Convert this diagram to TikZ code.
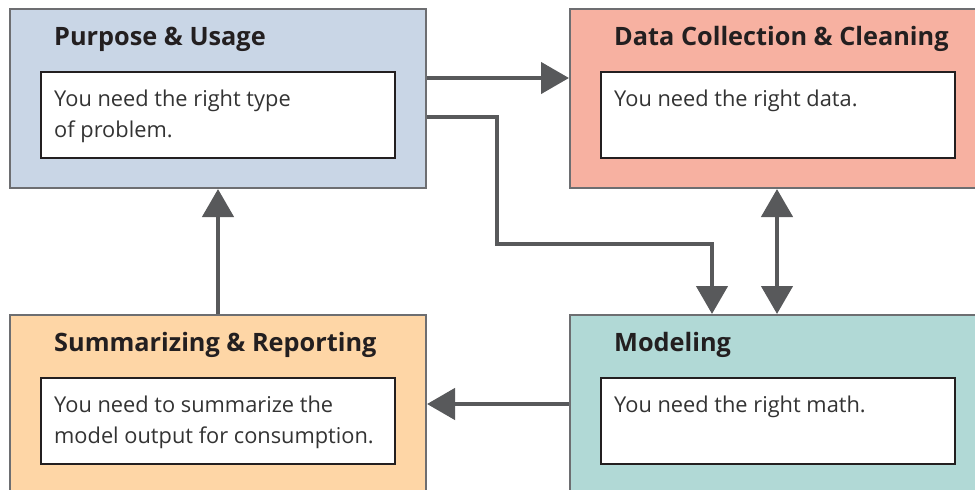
\documentclass[tikz,border=0pt]{standalone}
\usepackage{fontspec}
\setmainfont{Open Sans}
\usetikzlibrary{arrows.meta}
\definecolor{puFill}{HTML}{C9D6E6}
\definecolor{dcFill}{HTML}{F7B1A1}
\definecolor{suFill}{HTML}{FED6A6}
\definecolor{moFill}{HTML}{B1D9D6}
\definecolor{frameGray}{HTML}{6D6E71}
\definecolor{connGray}{HTML}{58595B}
\definecolor{inkDark}{HTML}{231F20}
\definecolor{bodyInk}{HTML}{333333}
\tikzset{
  x=1pt, y=-1pt,
  outerbox/.style={draw=frameGray, line width=2pt, rectangle, anchor=north west,
    inner sep=0pt, minimum height=#1},
  innerbox/.style={draw=inkDark, fill=white, line width=2pt, rectangle, anchor=north west,
    inner sep=0pt, minimum width=354pt, minimum height=86pt},
  titletext/.style={anchor=base west, inner sep=0pt, text=inkDark,
    font=\fontsize{25.3}{30}\selectfont\bfseries},
  % multi-line nodes: the base anchor sits on the last line
  bodytext/.style={anchor=base west, inner sep=0pt, text=bodyInk, align=left,
    font=\fontsize{21.8}{31}\selectfont},
  conn/.style={draw=connGray, line width=4.5pt,
    -{Triangle[length=28pt, width=31pt]}},
  conn2/.style={draw=connGray, line width=4.5pt,
    {Triangle[length=28pt, width=31pt]}-{Triangle[length=28pt, width=31pt]}},
}
\begin{document}
\begin{tikzpicture}
\useasboundingbox (0,0) rectangle (975,490);
\clip (0,0) rectangle (975,490);

% outer stage boxes
\node[outerbox=179pt, fill=puFill, minimum width=416pt] (pu) at (9,8) {};
\node[outerbox=179pt, fill=dcFill, minimum width=420pt] (dc) at (569,8) {};
\node[outerbox=200pt, fill=suFill, minimum width=416pt] (su) at (9,314) {};
\node[outerbox=200pt, fill=moFill, minimum width=420pt] (mo) at (569,314) {};

% titles
\node[titletext] (put) at (54,45) {Purpose \& Usage};
\node[titletext] (dct) at (614,45) {Data Collection \& Cleaning};
\node[titletext] (sut) at (54,351) {Summarizing \& Reporting};
\node[titletext] (mot) at (614,351) {Modeling};

% white description boxes
\node[innerbox] (pui) at (40,71) {};
\node[innerbox] (dci) at (600,71) {};
\node[innerbox] (sui) at (40,377) {};
\node[innerbox] (moi) at (600,377) {};

% descriptions
\node[bodytext] (pub) at (54,137) {You need the right type\\of problem.};
\node[bodytext] (dcb) at (614,106) {You need the right data.};
\node[bodytext] (sub) at (54,443) {You need to summarize the\\model output for consumption.};
\node[bodytext] (mob) at (614,412) {You need the right math.};

% helper coordinates for connector rows and columns
\coordinate (rowA) at (0,78);
\coordinate (rowB) at (0,117);
\coordinate (bendA) at (497,244);
\coordinate (colB) at (712,0);
\coordinate (colC) at (777,0);
\coordinate (rowD) at (0,404);

% connectors
\draw[conn] (pu.east |- rowA) -- (dc.west |- rowA);
\draw[conn] (pu.east |- rowB) -| (bendA) -| (mo.north -| colB);
\draw[conn2] (dc.south -| colC) -- (mo.north -| colC);
\draw[conn] (su.north) -- (pu.south);
\draw[conn] (mo.west |- rowD) -- (su.east |- rowD);
\end{tikzpicture}
\end{document}
